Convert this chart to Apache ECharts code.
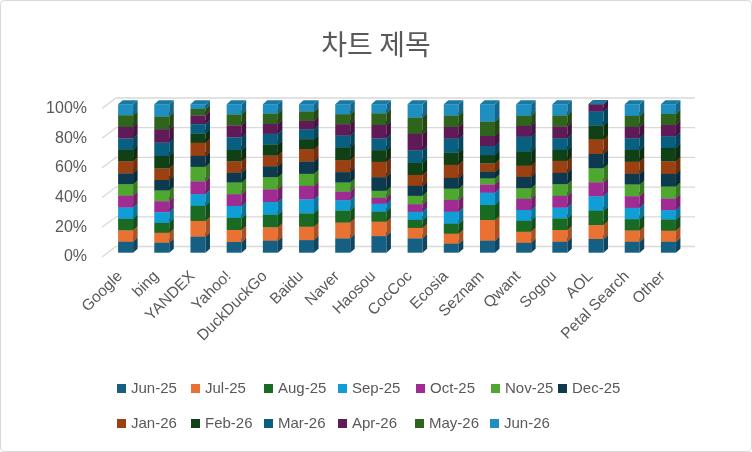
<!DOCTYPE html>
<html>
<head>
<meta charset="utf-8">
<script src="https://cdn.jsdelivr.net/npm/echarts@6/dist/echarts.min.js"></script>
<style>
  html, body { margin: 0; padding: 0; background: #fff; }
  #main { width: 752px; height: 452px; }
</style>
</head>
<body>
<div id="main"></div>
<script>
// 카테고리 (검색엔진)
var engines = ['Google', 'bing', 'YANDEX', 'Yahoo!', 'DuckDuckGo', 'Baidu', 'Naver', 'Haosou',
  'CocCoc', 'Ecosia', 'Seznam', 'Qwant', 'Sogou', 'AOL', 'Petal Search', 'Other'];

// 월별 계열 이름
var months = ['Jun-25', 'Jul-25', 'Aug-25', 'Sep-25', 'Oct-25', 'Nov-25', 'Dec-25',
  'Jan-26', 'Feb-26', 'Mar-26', 'Apr-26', 'May-26', 'Jun-26'];

// 월별 값 (엔진 순서대로)
var jun25 = [7.4, 6.7, 10.8, 7.2, 8.1, 8.5, 9.7, 11.2, 9.7, 6.1, 8.1, 6.7, 7.4, 9.2, 7.4, 7.4];
var jul25 = [7.7, 6.7, 10.6, 8.1, 9.0, 9.0, 10.6, 9.7, 7.0, 6.7, 13.9, 7.4, 7.9, 9.4, 7.6, 7.4];
var aug25 = [7.7, 6.7, 10.2, 8.1, 8.4, 9.0, 8.1, 6.7, 5.4, 6.7, 10.1, 7.4, 7.9, 9.7, 7.6, 7.6];
var sep25 = [7.7, 7.2, 7.9, 8.1, 8.6, 9.4, 7.0, 5.4, 5.4, 8.1, 8.3, 7.2, 7.2, 9.7, 7.6, 6.3];
var oct25 = [7.9, 7.4, 8.6, 7.9, 8.6, 9.0, 5.8, 4.0, 5.2, 7.9, 5.6, 7.6, 7.9, 9.4, 7.9, 7.9];
var nov25 = [7.7, 7.2, 9.7, 7.9, 8.1, 8.1, 6.1, 4.7, 5.6, 7.6, 4.0, 7.0, 7.9, 9.4, 7.9, 7.9];
var dec25 = [7.4, 7.0, 7.4, 6.5, 7.4, 8.3, 7.0, 9.2, 6.7, 7.2, 4.5, 7.6, 7.6, 9.7, 7.2, 8.5];
var jan26 = [8.1, 7.9, 8.8, 7.7, 7.2, 8.3, 8.1, 10.3, 7.4, 8.8, 5.6, 7.6, 8.1, 9.7, 8.1, 8.5];
var feb26 = [7.7, 8.3, 6.3, 7.7, 7.4, 6.7, 8.3, 7.9, 8.1, 8.3, 5.6, 9.4, 7.4, 9.4, 7.9, 9.0];
var mar26 = [7.7, 9.0, 6.3, 8.4, 7.2, 6.7, 8.3, 7.9, 8.5, 9.4, 6.1, 10.1, 7.9, 9.4, 7.9, 7.9];
var apr26 = [7.7, 9.0, 5.9, 8.1, 6.8, 5.6, 7.6, 9.0, 11.0, 7.9, 6.7, 7.2, 7.9, 4.9, 7.6, 7.6];
var may26 = [7.9, 8.5, 4.3, 7.4, 6.8, 6.3, 6.7, 7.9, 11.0, 7.6, 9.7, 7.0, 7.4, 0, 7.4, 7.4];
var jun26 = [7.4, 8.3, 3.2, 6.8, 6.3, 4.9, 6.7, 6.1, 9.0, 7.6, 11.7, 7.6, 7.6, 0, 7.9, 6.5];

var monthValues = [jun25, jul25, aug25, sep25, oct25, nov25, dec25, jan26, feb26, mar26, apr26, may26, jun26];

// 축 눈금
var yTicks = [0, 20, 40, 60, 80, 100];

var colors = ['#156082', '#E97132', '#196B24', '#0F9ED5', '#A02B93', '#4EA72E', '#0D3A4E',
  '#9A4011', '#0F4016', '#095F80', '#601A58', '#2F641C', '#1F8EC0'];

// 3D 흉내용 치수
var BAR_W = 15, BAR_DX = 5.5, BAR_DY = -4.3;   // 막대 앞면
var SIDE_DX = 4.5, SIDE_DY = -4;               // 막대 깊이
var WALL_DX = 14, WALL_DY = -10.5;             // 뒷벽 깊이
var TEXT = '#595959';

function shade(hex, k){
  var n = parseInt(hex.slice(1), 16);
  var r = Math.round(((n >> 16) & 255) * k), g = Math.round(((n >> 8) & 255) * k), b = Math.round((n & 255) * k);
  return 'rgb(' + r + ',' + g + ',' + b + ')';
}

// 100% 누적 계산
var totals = engines.map(function(e, c){
  var s = 0;
  monthValues.forEach(function(arr){ s += arr[c]; });
  return s;
});
var running = engines.map(function(){ return 0; });
var stacks = monthValues.map(function(arr){
  return arr.map(function(v, c){
    var s = running[c];
    running[c] += v;
    return [c, s / totals[c] * 100, running[c] / totals[c] * 100];
  });
});

function renderSeg(color){
  return function(params, api){
    var c = api.value(0), s = api.value(1), e = api.value(2);
    var p0 = api.coord([c, s]), p1 = api.coord([c, e]);
    var x0 = p0[0] + BAR_DX - BAR_W / 2, x1 = x0 + BAR_W;
    var yb = p0[1] + BAR_DY, yt = p1[1] + BAR_DY;
    return {
      type: 'group',
      children: [{
        type: 'rect',
        shape: {x: x0, y: yt, width: BAR_W, height: yb - yt},
        style: {fill: color}
      }, {
        type: 'polygon',
        shape: {points: [[x1, yb], [x1 + SIDE_DX, yb + SIDE_DY], [x1 + SIDE_DX, yt + SIDE_DY], [x1, yt]]},
        style: {fill: shade(color, 0.72)}
      }, {
        type: 'polygon',
        shape: {points: [[x0, yt], [x1, yt], [x1 + SIDE_DX, yt + SIDE_DY], [x0 + SIDE_DX, yt + SIDE_DY]]},
        style: {fill: shade(color, 0.85)}
      }]
    };
  };
}

var series = [{
  type: 'custom',
  name: 'grid',
  silent: true,
  z: 1,
  data: yTicks.map(function(v){ return [0, v]; }),
  renderItem: function(params, api){
    var cs = params.coordSys;
    var y = api.coord([0, api.value(1)])[1];
    return {
      type: 'polyline',
      shape: {points: [[cs.x, y], [cs.x + WALL_DX, y + WALL_DY], [cs.x + cs.width + WALL_DX, y + WALL_DY]]},
      style: {stroke: '#d9d9d9', lineWidth: 1.3, fill: null}
    };
  }
}];

months.forEach(function(m, i){
  series.push({
    type: 'custom',
    name: m,
    z: 2,
    itemStyle: {color: colors[i]},
    encode: {x: 0, y: [1, 2]},
    data: stacks[i],
    renderItem: renderSeg(colors[i])
  });
});

// 범례 위치
var legendX = [117, 191, 264, 338, 416, 491, 558, 117, 191, 264, 338, 415, 490];
var legendY = [381, 381, 381, 381, 381, 381, 381, 416, 416, 416, 416, 416, 416];

var chart = echarts.init(document.getElementById('main'));
chart.setOption({
  backgroundColor: '#fff',
  animation: false,
  title: {
    text: '차트 제목',
    left: 'center',
    top: 30,
    padding: 0,
    textStyle: {fontFamily: 'Noto Sans CJK KR', fontSize: 28, fontWeight: 'normal', color: TEXT}
  },
  graphic: [{
    type: 'rect',
    shape: {x: 0.5, y: 0.5, width: 751, height: 451, r: 4},
    style: {fill: null, stroke: '#d9d9d9', lineWidth: 1},
    silent: true
  }],
  legend: months.map(function(m, i){
    return {
      data: [m],
      left: legendX[i],
      top: legendY[i],
      padding: 0,
      icon: 'rect',
      itemWidth: 9,
      itemHeight: 9,
      textStyle: {fontFamily: 'Liberation Sans', fontSize: 15, color: TEXT}
    };
  }),
  grid: {left: 102, right: 71, top: 108.5, bottom: 195, containLabel: false},
  xAxis: {
    type: 'category',
    data: engines,
    boundaryGap: true,
    axisLine: {show: false},
    axisTick: {show: false},
    axisLabel: {rotate: 45, margin: 17, interval: 0, fontFamily: 'Liberation Sans', fontSize: 15.5, color: TEXT}
  },
  yAxis: {
    type: 'value',
    min: 0,
    max: 100,
    interval: 20,
    axisLine: {show: false},
    axisTick: {show: false},
    splitLine: {show: false},
    axisLabel: {formatter: '{value}%', margin: 15, padding: [3, 0, 0, 0], fontFamily: 'Liberation Sans', fontSize: 16, color: TEXT}
  },
  series: series
});
</script>
</body>
</html>
